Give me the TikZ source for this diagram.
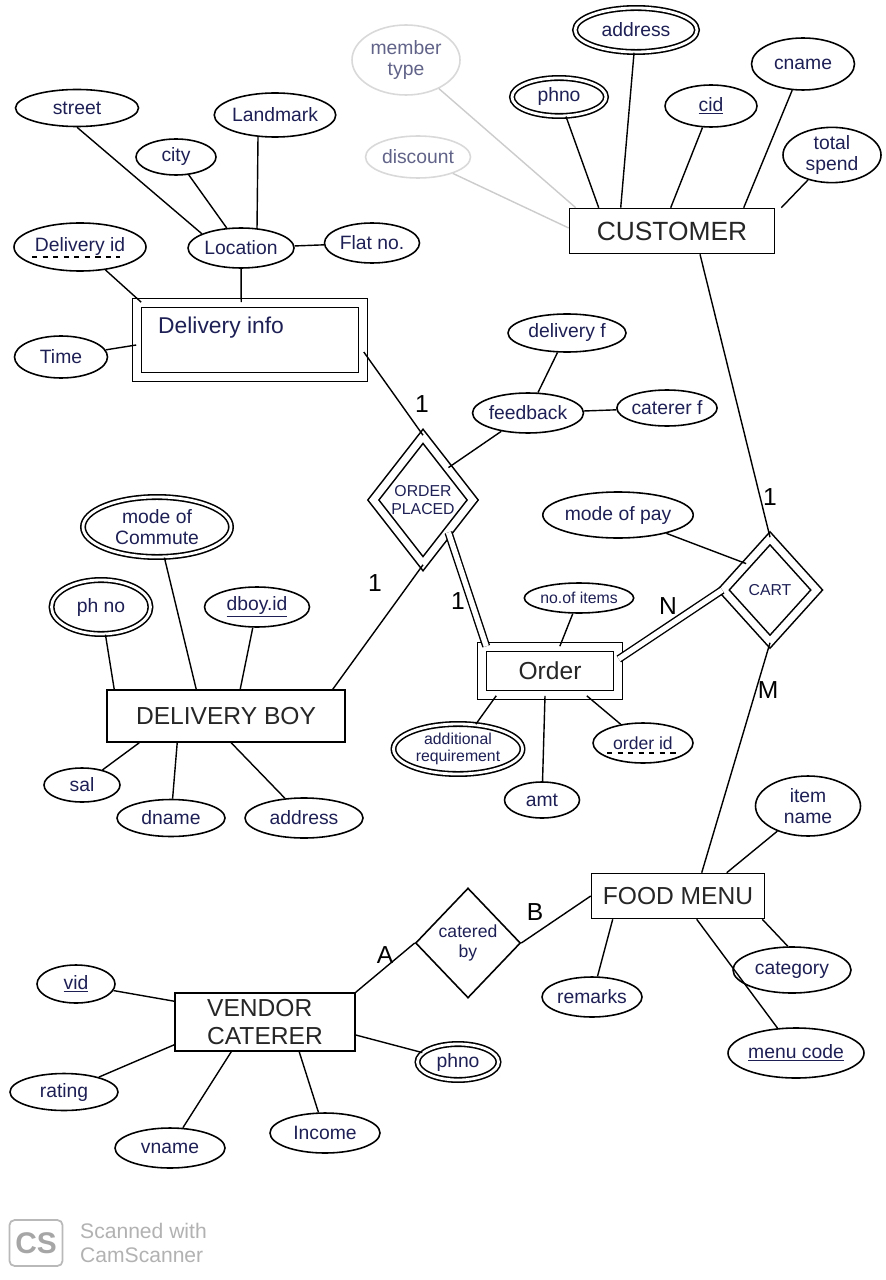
\documentclass[tikz,border=0pt]{standalone}
\usepackage{fontspec}
\setmainfont{Liberation Sans}
\usetikzlibrary{shapes.geometric,calc}
\newdimen\pxu \pxu=0.02cm
\definecolor{ink}{RGB}{30,32,85}
\tikzset{
 attr/.style={ellipse, draw=black, line width=0.9pt, inner sep=0pt, text=ink, font=\fontsize{11}{12}\selectfont, align=center},
 mattr/.style={attr, double, double distance=1.6pt},
 fattr/.style={attr, draw=gray!30, text=ink!70},
 ent/.style={rectangle, draw, line width=0.9pt, font=\fontsize{14}{16}\selectfont, inner sep=0pt, text=black!85, align=center},
 wkent/.style={ent, double, double distance=4pt},
 rel/.style={diamond, draw, line width=0.9pt, inner sep=0pt, text=ink, font=\fontsize{9}{10}\selectfont, align=center},
 wkrel/.style={rel, double, double distance=4pt},
 conn/.style={line width=0.8pt},
 fconn/.style={line width=0.8pt, draw=gray!40},
 tot/.style={line width=0.8pt, double, double distance=3pt},
 card/.style={font=\fontsize{14}{16}\selectfont, inner sep=0pt},
}
\begin{document}
\begin{tikzpicture}[x=0.02cm,y=-0.02cm]
\fill[white] (0,0) rectangle (885,1280);
\useasboundingbox (0,0) rectangle (885,1280);

% ---------- top left: Delivery info ----------
\node[attr, minimum width=123\pxu, minimum height=37\pxu] (street) at (77,108) {street};
\node[attr, minimum width=116\pxu, minimum height=44\pxu] (landmark) at (275,115) {Landmark};
\node[attr, minimum width=80\pxu, minimum height=36\pxu] (city) at (176,157) {city};
\node[attr, minimum width=132\pxu, minimum height=48\pxu] (did) at (80,247) {Delivery id};
\node[attr, minimum width=106\pxu, minimum height=40\pxu] (loc) at (241,248) {Location};
\node[attr, minimum width=95\pxu, minimum height=40\pxu] (flat) at (372,243) {Flat no.};
\node[wkent, minimum width=226\pxu, minimum height=74\pxu,
  label={[anchor=north west, xshift=9pt, yshift=-5pt, text=ink, font=\fontsize{13}{15}\selectfont]north west:Delivery info}] (dinfo) at (250,340) {};
\node[attr, minimum width=93\pxu, minimum height=42\pxu] (time) at (61,357) {Time};
\draw[conn, dashed] ($(did.center)+(-48,10)$) -- ($(did.center)+(40,10)$);

% ---------- top right: Customer ----------
\node[fattr, minimum width=108\pxu, minimum height=70\pxu] (mtype) at (406,60) {member\\type};
\node[fattr, minimum width=105\pxu, minimum height=42\pxu] (disc) at (418,157) {discount};
\node[mattr, minimum width=122\pxu, minimum height=44\pxu] (caddr) at (636,30) {address};
\node[attr, minimum width=103\pxu, minimum height=52\pxu] (cname) at (803,64) {cname};
\node[mattr, minimum width=94\pxu, minimum height=38\pxu] (cphno) at (559,97) {phno};
\node[attr, minimum width=92\pxu, minimum height=42\pxu] (cid) at (711,106) {\underline{cid}};
\node[attr, minimum width=98\pxu, minimum height=50\pxu] (tspend) at (832,155) {total\\spend};
\node[ent, minimum width=205\pxu, minimum height=45\pxu, font=\fontsize{15}{17}\selectfont] (cust) at (672,231) {CUSTOMER};

% ---------- middle ----------
\node[attr, minimum width=118\pxu, minimum height=38\pxu] (delf) at (567,333) {delivery f};
\node[attr, minimum width=108\pxu, minimum height=40\pxu] (fb) at (528,413) {feedback};
\node[attr, minimum width=95\pxu, minimum height=36\pxu] (catf) at (667,408) {caterer f};
\node[wkrel, minimum width=100\pxu, minimum height=128\pxu] (op) at (423,500) {ORDER\\PLACED};
\node[attr, minimum width=140\pxu, minimum height=46\pxu] (mop) at (618,515) {mode of pay};
\node[wkrel, minimum width=94\pxu, minimum height=104\pxu] (cart) at (770,590) {CART};

% ---------- Delivery boy ----------
\node[mattr, minimum width=148\pxu, minimum height=60\pxu] (moc) at (157,527) {mode of\\Commute};
\node[mattr, minimum width=99\pxu, minimum height=54\pxu] (dphno) at (101,607) {ph no};
\node[attr, minimum width=105\pxu, minimum height=40\pxu] (dbid) at (257,607) {\underline{dboy.id}};
\node[ent, minimum width=238\pxu, minimum height=52\pxu] (db) at (226,716) {DELIVERY BOY};
\node[attr, minimum width=76\pxu, minimum height=34\pxu] (sal) at (82,785) {sal};
\node[attr, minimum width=108\pxu, minimum height=37\pxu] (dname) at (171,818) {dname};
\node[attr, minimum width=118\pxu, minimum height=40\pxu] (daddr) at (304,818) {address};

% ---------- Order ----------
\node[attr, minimum width=105\pxu, minimum height=30\pxu, font=\fontsize{9}{10}\selectfont] (noi) at (579,598) {no.of items};
\node[wkent, minimum width=136\pxu, minimum height=48\pxu] (order) at (550,671) {Order};
\node[mattr, minimum width=129\pxu, minimum height=50\pxu, font=\fontsize{9}{10}\selectfont] (areq) at (458,749) {additional\\requirement};
\node[attr, minimum width=75\pxu, minimum height=36\pxu] (amt) at (542,800) {amt};
\node[attr, minimum width=100\pxu, minimum height=40\pxu, font=\fontsize{10}{11}\selectfont] (oid) at (643,743) {order id};
\draw[conn, dashed] ($(oid.center)+(-36,10)$) -- ($(oid.center)+(34,10)$);
\node[attr, minimum width=105\pxu, minimum height=60\pxu] (iname) at (808,806) {item\\name};

% ---------- Food menu / vendor ----------
\node[ent, minimum width=173\pxu, minimum height=45\pxu] (fm) at (678,896) {FOOD MENU};
\node[rel, minimum width=105\pxu, minimum height=110\pxu, font=\fontsize{10}{11}\selectfont] (cb) at (468,943) {catered\\by};
\node[attr, minimum width=100\pxu, minimum height=40\pxu] (rem) at (592,997) {remarks};
\node[attr, minimum width=118\pxu, minimum height=46\pxu] (cat) at (792,970) {category};
\node[attr, minimum width=136\pxu, minimum height=50\pxu] (mcode) at (796,1053) {\underline{menu code}};
\node[ent, minimum width=180\pxu, minimum height=58\pxu, align=left] (vc) at (265,1022) {VENDOR\\CATERER};
\node[attr, minimum width=78\pxu, minimum height=38\pxu] (vid) at (76,984) {\underline{vid}};
\node[attr, minimum width=108\pxu, minimum height=37\pxu] (rating) at (64,1092) {rating};
\node[attr, minimum width=110\pxu, minimum height=40\pxu] (vname) at (170,1148) {vname};
\node[attr, minimum width=110\pxu, minimum height=40\pxu] (income) at (325,1133) {Income};
\node[mattr, minimum width=81\pxu, minimum height=36\pxu] (vphno) at (458,1062) {phno};

% ---------- connectors ----------
\draw[conn] (street.south) -- (loc.160);
\draw[conn] (city) -- (loc);
\draw[conn] ($(landmark.south)+(-17,-1)$) -- ($(loc.north)+(16,2)$);
\draw[conn] (loc) -- (flat);
\draw[conn] (loc) -- ($(dinfo.north west)+(105,0)$);
\draw[conn] (did) -- ($(dinfo.north west)+(5,0)$);
\draw[conn] (time) -- ($(dinfo.west)+(0,5)$);
\draw[conn] ($(dinfo.east)+(0,12)$) -- (op.north);
\draw[conn] (op.north east) -- (fb);
\draw[conn] (fb) -- (delf);
\draw[conn] (fb) -- (catf);

\draw[fconn] (mtype) -- ($(cust.north west)+(7,0)$);
\draw[fconn] (disc) -- ($(cust.west)+(0,-3)$);
\draw[conn] (cphno) -- ($(cust.north west)+(30,0)$);
\draw[conn] (caddr) -- ($(cust.north west)+(52,0)$);
\draw[conn] (cid) -- ($(cust.north west)+(102,0)$);
\draw[conn] (cname) -- ($(cust.north west)+(175,0)$);
\draw[conn] (tspend) -- ($(cust.north east)+(6,0)$);
\draw[conn] ($(cust.south)+(28,0)$) -- (cart.north);

\draw[conn] (mop) -- (cart.north west);
\draw[tot] ($(order.east)+(0,-12)$) -- (cart.west);
\draw[conn] (cart.south) -- ($(fm.north west)+(111,0)$);

\draw[conn] (op.south) -- ($(db.north east)+(-13,0)$);
\draw[tot] (op.south east) -- ($(order.north west)+(5,0)$);

\draw[conn] (moc) -- ($(db.north west)+(90,0)$);
\draw[conn] (dphno) -- ($(db.north west)+(8,0)$);
\draw[conn] (dbid) -- ($(db.north west)+(134,0)$);
\draw[conn] (sal) -- ($(db.south west)+(33,0)$);
\draw[conn] (dname) -- ($(db.south west)+(71,0)$);
\draw[conn] (daddr) -- ($(db.south west)+(125,0)$);

\draw[conn] (noi) -- (order);
\draw[conn] (areq) -- ($(order.south west)+(15,0)$);
\draw[conn] (amt) -- ($(order.south)+(-5,0)$);
\draw[conn] (oid) -- ($(order.south east)+(-32,0)$);

\draw[conn] (iname) -- ($(fm.north west)+(136,0)$);
\draw[conn] (rem) -- ($(fm.south west)+(22,0)$);
\draw[conn] (mcode) -- ($(fm.south west)+(106,0)$);
\draw[conn] (cat.100) -- ($(fm.south east)+(-3,0)$);
\draw[conn] (cb.east) -- (fm.west);
\draw[conn] (cb.west) -- (vc.north east);

\draw[conn] (vid) -- ($(vc.north west)+(0,9)$);
\draw[conn] (rating) -- ($(vc.south west)+(0,-7)$);
\draw[conn] (vname) -- ($(vc.south west)+(57,0)$);
\draw[conn] (income) -- ($(vc.south west)+(125,0)$);
\draw[conn] (vphno) -- ($(vc.east)+(0,13)$);

% ---------- cardinalities ----------
\node[card] (c1) at (422,404) {1};
\node[card] (c2) at (375,583) {1};
\node[card] (c3) at (458,601) {1};
\node[card] (c4) at (770,497) {1};
\node[card] (cN) at (668,606) {N};
\node[card] (cM) at (768,690) {M};
\node[card] (cA) at (385,955) {A};
\node[card] (cB) at (535,912) {B};

% ---------- scanner mark ----------
\node[draw=gray!55, line width=1pt, rounded corners=3pt, minimum width=50\pxu, minimum height=46\pxu, text=gray!70, font=\fontsize{17}{17}\selectfont\bfseries] (cs) at (36,1243) {CS};
\node[anchor=west, text=gray!60, align=left, font=\fontsize{12}{14}\selectfont] (csl) at (74,1243) {Scanned with\\CamScanner};
\end{tikzpicture}
\end{document}
